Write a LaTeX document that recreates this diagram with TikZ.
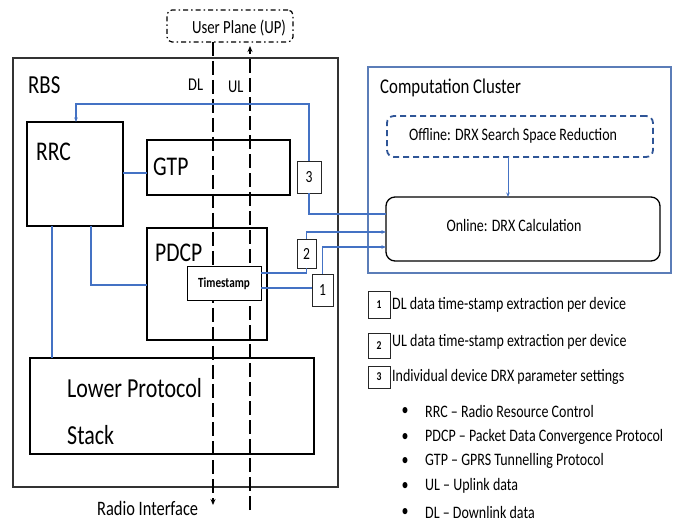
\documentclass[tikz,border=0pt]{standalone}
\usepackage{fontspec}
\setmainfont{Carlito}[FakeStretch=0.8]
\usetikzlibrary{arrows.meta,calc}
\definecolor{lblue}{HTML}{4472C4}
\definecolor{dblue}{HTML}{2F5597}
\definecolor{cblue}{HTML}{5B7DB8}
\newcommand\myfs[1]{\fontsize{#1}{#1}\selectfont}
\begin{document}
\begin{tikzpicture}[x=1pt,y=-1pt,
  box/.style={draw=black,line width=1.3pt,anchor=north west,inner sep=0pt,outer sep=0pt},
  txt/.style={inner sep=0pt,anchor=west},
  blu/.style={draw=lblue,line width=1.1pt},
  arr/.style={-{Stealth[length=4.5pt,width=3.5pt]}},
  flow/.style={line width=1.8pt,dash pattern=on 14pt off 5pt},
  numbox/.style={box,line width=0.9pt,draw=black!85},
]
\useasboundingbox (0,0) rectangle (683,521);
% containers
\node[box,draw=black!80,line width=1.4pt,minimum width=325pt,minimum height=429pt] (rbs) at (13,58) {};
\node[box,draw=cblue,line width=1.2pt,minimum width=303pt,minimum height=206pt] (cc) at (368,67) {};
\node[box,draw=dblue,line width=1.8pt,dash pattern=on 6pt off 4pt,rounded corners=7pt,minimum width=266pt,minimum height=41pt] (off) at (387,116) {};
\node[box,rounded corners=9pt,minimum width=274pt,minimum height=64pt] (on) at (386,197) {};
\node[box,line width=1.2pt,dash pattern=on 5pt off 3pt on 1.5pt off 3pt,rounded corners=5pt,minimum width=126pt,minimum height=32pt] (up) at (167,10) {};
% RBS blocks
\node[box,minimum width=96pt,minimum height=104pt] (rrc) at (27,122) {};
\node[box,minimum width=143pt,minimum height=55pt] (gtp) at (147,140) {};
\node[box,minimum width=120pt,minimum height=112pt] (pdcp) at (147,228) {};
\node[box,minimum width=284pt,minimum height=96pt] (lps) at (30,358) {};
\node[numbox,minimum width=24pt,minimum height=32pt] (b3) at (297,161) {};
\node[numbox,minimum width=19pt,minimum height=29pt] (b2) at (297,239) {};
\node[numbox,minimum width=21pt,minimum height=32pt] (b1) at (312,274) {};
% texts
\node[txt] (trbs) at (28,85) {\myfs{26}RBS};
\node[txt] (trrc) at (36,152) {\myfs{27}RRC};
\node[txt] (tgtp) at (153,167) {\myfs{27}GTP};
\node[txt] (tpdcp) at (155,253) {\myfs{27}PDCP};
\node[txt] (tlps1) at (67,388) {\myfs{27.5}Lower Protocol};
\node[txt] (tlps2) at (67,435) {\myfs{27.5}Stack};
\node[txt] (tdl) at (188,85) {\myfs{18}DL};
\node[txt] (tul) at (228,87) {\myfs{18}UL};
\node[txt] (tcc) at (380,88) {\myfs{21}Computation Cluster};
\node[inner sep=0pt] (toff) at (513,136) {\myfs{17.5}Offline: DRX Search Space Reduction};
\node[inner sep=0pt] (ton) at (514,225) {\myfs{17.5}Online: DRX Calculation};
\node[inner sep=0pt] (tup) at (239,28) {\myfs{18.5}User Plane (UP)};
\node[txt] (tri) at (97,508) {\myfs{20.5}Radio Interface};
\node[inner sep=0pt] at (b3) {\myfs{17}3};
\node[inner sep=0pt] at (b2) {\myfs{17}2};
\node[inner sep=0pt] at (b1) {\myfs{17}1};
% data flows
\coordinate (dlend) at (213,505);
\coordinate (ulbot) at (250,510);
\draw[flow,-{Stealth[length=6pt,width=5pt]}] (up.south -| 213,0) -- (dlend);
\draw[flow,-{Stealth[length=6pt,width=5pt]}] (ulbot) -- ($(up.south -| 250,0)+(0,4)$);
% timestamp
\node[box,fill=white,line width=1pt,minimum width=74pt,minimum height=34pt] (ts) at (187,267) {};
\node[inner sep=0pt] (tts) at (ts) {\myfs{14}\bfseries Timestamp};
% blue connectors
\coordinate (c3) at (76,104);
\draw[blu,arr] (b3.north) |- (c3) -- (c3 |- rrc.north);
\draw[blu] (b3.south) |- (on.west |- 0,214);
\draw[blu] (ts.east |- 0,273) -| (b2.south);
\draw[blu,arr] (b2.north) |- (on.west |- 0,232);
\draw[blu] (ts.east |- 0,288) -- (b1.west |- 0,288);
\draw[blu,arr] (b1.north) |- (on.west |- 0,247);
\draw[blu] (rrc.east |- 0,173) -- (gtp.west |- 0,173);
\draw[blu] (rrc.south -| 91,0) |- (pdcp.west |- 0,285);
\draw[blu] (rrc.south -| 52,0) -- (lps.north -| 52,0);
\draw[blu,line width=0.8pt,arr] (off.south -| 508,0) -- (on.north -| 508,0);
% legend
\node[numbox,minimum width=22pt,minimum height=27pt] (l1) at (368,291) {};
\node[numbox,minimum width=22pt,minimum height=25pt] (l2) at (368,333) {};
\node[numbox,minimum width=22pt,minimum height=22pt] (l3) at (368,366) {};
\node[inner sep=0pt] at (l1) {\myfs{12}\bfseries 1};
\node[inner sep=0pt] at (l2) {\myfs{12}\bfseries 2};
\node[inner sep=0pt] at (l3) {\myfs{12}\bfseries 3};
\node[txt] (lt1) at (392,305) {\myfs{17.5}DL data time-stamp extraction per device};
\node[txt] (lt2) at (392,342) {\myfs{17.5}UL data time-stamp extraction per device};
\node[txt] (lt3) at (392,377) {\myfs{17.5}Individual device DRX parameter settings};
\foreach \yy/\tt [count=\i] in {411/RRC -- Radio Resource Control,437/PDCP -- Packet Data Convergence Protocol,461/GTP -- GPRS Tunnelling Protocol,486/UL -- Uplink data,512/DL -- Downlink data}{
  \node[inner sep=0pt] (bul\i) at (405,\yy) {\myfs{17.5}•};
  \node[txt] (bt\i) at (425,\yy) {\myfs{17.5}\tt};
}
\end{tikzpicture}
\end{document}
